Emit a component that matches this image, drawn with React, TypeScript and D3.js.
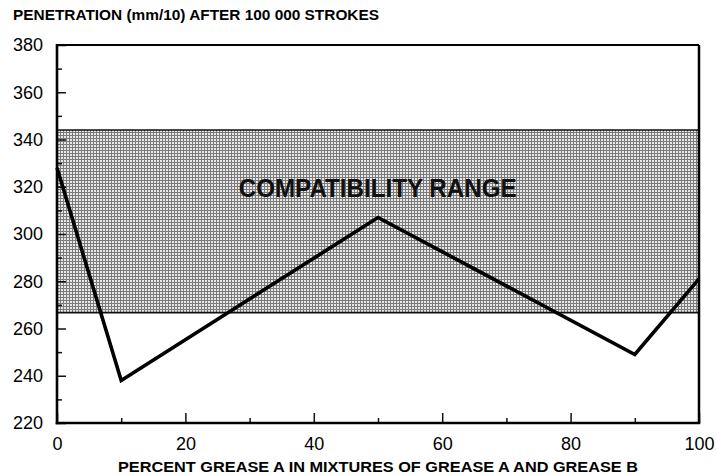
import React, { useEffect, useRef } from 'react';
import * as d3 from 'd3';

// mixture composition (% grease A) and measured penetration
const percentA = [0, 10, 50, 90, 100];
const penetration = [328, 238, 307, 249, 281];

// compatibility band limits
const bandLow = 266.7;
const bandHigh = 344;

const yMajorTicks = [220, 240, 260, 280, 300, 320, 340, 360, 380];
const yMinorTicks = [230, 250, 270, 290, 310, 330, 350, 370];
const xMajorTicks = [0, 20, 40, 60, 80, 100];
const xMinorTicks = [10, 30, 50, 70, 90];

const title = 'PENETRATION (mm/10) AFTER 100 000 STROKES';
const xTitle = 'PERCENT GREASE A IN MIXTURES OF GREASE A AND GREASE B';
const bandLabel = 'COMPATIBILITY RANGE';

const width = 717;
const height = 475;
const font = '"Liberation Sans", Arial, sans-serif';

const App = () => {
  const svgRef = useRef<SVGSVGElement>(null);

  useEffect(() => {
    const svg = d3.select(svgRef.current);
    svg.selectAll('*').remove();
    const margin = { top: 45, right: 18, bottom: 52, left: 57 };

    const xScale = d3.scaleLinear()
      .domain([0, 100])
      .range([margin.left, width - margin.right]);

    const yScale = d3.scaleLinear()
      .domain([220, 380])
      .range([height - margin.bottom, margin.top]);

    svg.append('rect')
      .attr('width', width)
      .attr('height', height)
      .attr('fill', 'white');

    // halftone screen for the band
    const defs = svg.append('defs');
    const pat = defs.append('pattern')
      .attr('id', 'screen')
      .attr('patternUnits', 'userSpaceOnUse')
      .attr('width', 3)
      .attr('height', 3);
    pat.append('rect').attr('width', 3).attr('height', 3).attr('fill', '#7a7a7a');
    pat.append('rect').attr('x', 1).attr('y', 1).attr('width', 2).attr('height', 2).attr('fill', '#e8e8e8');

    svg.append('rect')
      .attr('x', xScale(0))
      .attr('y', yScale(bandHigh))
      .attr('width', xScale(100) - xScale(0))
      .attr('height', yScale(bandLow) - yScale(bandHigh))
      .attr('fill', 'url(#screen)')
      .attr('shape-rendering', 'crispEdges');

    [bandLow, bandHigh].forEach(v => {
      svg.append('line')
        .attr('x1', xScale(0)).attr('x2', xScale(100))
        .attr('y1', yScale(v)).attr('y2', yScale(v))
        .attr('stroke', '#111')
        .attr('stroke-width', 1.6);
    });

    svg.append('text')
      .attr('x', xScale(28.3))
      .attr('y', 197)
      .attr('font-family', font)
      .attr('font-weight', 'bold')
      .attr('font-size', 25)
      .attr('textLength', 278)
      .attr('lengthAdjust', 'spacingAndGlyphs')
      .attr('fill', '#111')
      .text(bandLabel);

    // axes: major + minor ticks pointing inward
    const yAxis = d3.axisLeft(yScale).tickValues(yMajorTicks).tickSize(-9).tickPadding(14);
    const yMinor = d3.axisLeft(yScale).tickValues(yMinorTicks).tickSize(-5).tickFormat(() => '');
    const xAxis = d3.axisBottom(xScale).tickValues(xMajorTicks).tickSize(-10).tickPadding(14);
    const xMinor = d3.axisBottom(xScale).tickValues(xMinorTicks).tickSize(-5).tickFormat(() => '');

    const styleAxis = (g) => {
      g.select('.domain').remove();
      g.selectAll('line').attr('stroke', '#111').attr('stroke-width', 1.5);
      g.selectAll('text')
        .attr('font-family', font)
        .attr('font-size', 18)
        .attr('fill', '#000');
    };

    svg.append('g').attr('transform', `translate(${margin.left},0)`).call(yAxis).call(styleAxis);
    svg.append('g').attr('transform', `translate(${margin.left},0)`).call(yMinor).call(styleAxis);
    svg.append('g').attr('transform', `translate(0,${height - margin.bottom})`).call(xAxis).call(styleAxis);
    svg.append('g').attr('transform', `translate(0,${height - margin.bottom})`).call(xMinor).call(styleAxis);

    // frame
    const x0 = xScale(0), x1 = xScale(100), y0 = yScale(220), y1 = yScale(380);
    svg.append('line').attr('x1', x0).attr('x2', x1).attr('y1', y1).attr('y2', y1)
      .attr('stroke', '#000').attr('stroke-width', 2);
    svg.append('line').attr('x1', x1).attr('x2', x1).attr('y1', y1).attr('y2', y0)
      .attr('stroke', '#000').attr('stroke-width', 2.5);
    svg.append('line').attr('x1', x0).attr('x2', x0).attr('y1', y1 - 1).attr('y2', y0 + 1.3)
      .attr('stroke', '#000').attr('stroke-width', 2.6);
    svg.append('line').attr('x1', x0 - 1.3).attr('x2', x1 + 1.2).attr('y1', y0).attr('y2', y0)
      .attr('stroke', '#000').attr('stroke-width', 2.6);

    // data line
    const line = d3.line<number>()
      .x((d, i) => xScale(percentA[i]))
      .y(d => yScale(d));

    svg.append('path')
      .datum(penetration)
      .attr('d', line)
      .attr('fill', 'none')
      .attr('stroke', '#000')
      .attr('stroke-width', 3.6)
      .attr('stroke-linejoin', 'miter');

    svg.append('text')
      .attr('x', 13)
      .attr('y', 20)
      .attr('font-family', font)
      .attr('font-weight', 'bold')
      .attr('font-size', 14)
      .attr('textLength', 366)
      .attr('lengthAdjust', 'spacingAndGlyphs')
      .text(title);

    svg.append('text')
      .attr('x', (x0 + x1) / 2)
      .attr('y', 472)
      .attr('text-anchor', 'middle')
      .attr('font-family', font)
      .attr('font-weight', 'bold')
      .attr('font-size', 14)
      .attr('textLength', 520)
      .attr('lengthAdjust', 'spacingAndGlyphs')
      .text(xTitle);
  }, []);

  return (
    <svg ref={svgRef} width={width} height={height}
      style={{ position: 'absolute', left: 0, top: 0, display: 'block' }}></svg>
  );
};

export default App;
